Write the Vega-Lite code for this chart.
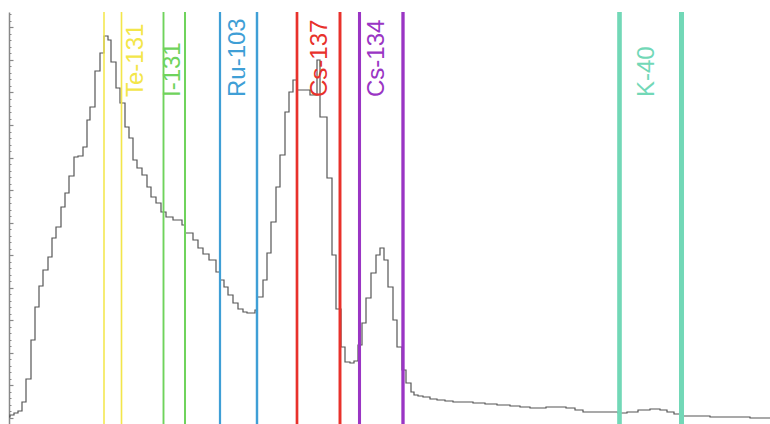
{
  "$schema": "https://vega.github.io/schema/vega-lite/v6.json",
  "width": 761,
  "height": 412,
  "autosize": {"type": "none"},
  "padding": {"left": 9, "top": 12, "right": 0, "bottom": 0},
  "background": "white",
  "config": {"view": {"stroke": null}, "axis": {"grid": false}},
  "datasets": {
    "spectrum": [
      {"x": 9, "c": 1}, {"x": 10, "c": 3}, {"x": 14, "c": 5}, {"x": 18, "c": 7}, {"x": 22, "c": 16},
      {"x": 26, "c": 39}, {"x": 31, "c": 78}, {"x": 35, "c": 111}, {"x": 39, "c": 132}, {"x": 43, "c": 148},
      {"x": 48, "c": 161}, {"x": 52, "c": 180}, {"x": 56, "c": 191}, {"x": 61, "c": 211}, {"x": 65, "c": 225},
      {"x": 69, "c": 242}, {"x": 74, "c": 261}, {"x": 78, "c": 262}, {"x": 83, "c": 271}, {"x": 87, "c": 298},
      {"x": 90, "c": 311}, {"x": 95, "c": 347}, {"x": 100, "c": 365}, {"x": 104, "c": 382}, {"x": 108, "c": 378},
      {"x": 111, "c": 356}, {"x": 116, "c": 330}, {"x": 120, "c": 315}, {"x": 125, "c": 291}, {"x": 129, "c": 280},
      {"x": 133, "c": 258}, {"x": 137, "c": 250}, {"x": 142, "c": 243}, {"x": 147, "c": 231}, {"x": 151, "c": 221},
      {"x": 156, "c": 215}, {"x": 161, "c": 206}, {"x": 166, "c": 201}, {"x": 173, "c": 198}, {"x": 182, "c": 193},
      {"x": 185, "c": 185}, {"x": 193, "c": 178}, {"x": 198, "c": 170}, {"x": 203, "c": 164}, {"x": 209, "c": 158},
      {"x": 216, "c": 146}, {"x": 220, "c": 138}, {"x": 224, "c": 131}, {"x": 228, "c": 123}, {"x": 233, "c": 115},
      {"x": 238, "c": 109}, {"x": 243, "c": 106}, {"x": 247, "c": 105}, {"x": 255, "c": 108}, {"x": 257, "c": 121},
      {"x": 263, "c": 138}, {"x": 267, "c": 165}, {"x": 271, "c": 196}, {"x": 276, "c": 231}, {"x": 280, "c": 263},
      {"x": 285, "c": 306}, {"x": 289, "c": 326}, {"x": 293, "c": 338}, {"x": 297, "c": 328}, {"x": 310, "c": 323},
      {"x": 317, "c": 358}, {"x": 320, "c": 301}, {"x": 327, "c": 240}, {"x": 332, "c": 163}, {"x": 336, "c": 109},
      {"x": 341, "c": 71}, {"x": 345, "c": 56}, {"x": 350, "c": 55}, {"x": 354, "c": 57}, {"x": 358, "c": 73},
      {"x": 362, "c": 95}, {"x": 366, "c": 120}, {"x": 371, "c": 145}, {"x": 376, "c": 163}, {"x": 380, "c": 170},
      {"x": 384, "c": 158}, {"x": 388, "c": 131}, {"x": 393, "c": 98}, {"x": 397, "c": 71}, {"x": 402, "c": 48},
      {"x": 406, "c": 35}, {"x": 411, "c": 26}, {"x": 414, "c": 23}, {"x": 418, "c": 22}, {"x": 423, "c": 21},
      {"x": 430, "c": 19}, {"x": 437, "c": 18}, {"x": 445, "c": 17}, {"x": 453, "c": 16}, {"x": 473, "c": 15},
      {"x": 485, "c": 14}, {"x": 497, "c": 13}, {"x": 510, "c": 12}, {"x": 520, "c": 11}, {"x": 530, "c": 10},
      {"x": 546, "c": 11}, {"x": 566, "c": 10}, {"x": 575, "c": 8}, {"x": 583, "c": 6}, {"x": 618, "c": 5},
      {"x": 627, "c": 6}, {"x": 638, "c": 8}, {"x": 650, "c": 9}, {"x": 660, "c": 8}, {"x": 667, "c": 6},
      {"x": 674, "c": 4}, {"x": 680, "c": 2}, {"x": 710, "c": 1}, {"x": 750, "c": 0}, {"x": 770, "c": 0}
    ],
    "lines": [
      {"iso": "Te-131", "e": 104}, {"iso": "Te-131", "e": 121.5},
      {"iso": "I-131", "e": 163.5}, {"iso": "I-131", "e": 185},
      {"iso": "Ru-103", "e": 220}, {"iso": "Ru-103", "e": 257},
      {"iso": "Cs-137", "e": 297}, {"iso": "Cs-137", "e": 340},
      {"iso": "Cs-134", "e": 359.5}, {"iso": "Cs-134", "e": 403},
      {"iso": "K-40", "e": 619.5}, {"iso": "K-40", "e": 681.5}
    ],
    "labels": [
      {"iso": "Te-131", "e": 136}, {"iso": "I-131", "e": 173}, {"iso": "Ru-103", "e": 238},
      {"iso": "Cs-137", "e": 320}, {"iso": "Cs-134", "e": 377}, {"iso": "K-40", "e": 647}
    ]
  },
  "resolve": {"axis": {"y": "independent"}},
  "layer": [
    {
      "data": {"name": "spectrum"},
      "mark": {"type": "line", "interpolate": "step-after", "color": "#555555", "strokeWidth": 1.2},
      "encoding": {
        "x": {"field": "x", "type": "quantitative", "scale": {"domain": [9, 770], "nice": false, "zero": false}, "axis": null},
        "y": {
          "field": "c", "type": "quantitative",
          "scale": {"domain": [-6, 406], "nice": false, "zero": false},
          "axis": {
            "orient": "left", "labels": false, "title": null, "domain": true, "domainColor": "#888888", "domainWidth": 1.5,
            "ticks": true, "tickColor": "#888888", "tickSize": -4, "tickWidth": 1.2,
            "values": [0, 32.55, 65.1, 97.65, 130.2, 162.75, 195.3, 227.85, 260.4, 292.95, 325.5, 358.05, 390.6]
          }
        }
      }
    },
    {
      "data": {"name": "lines"},
      "mark": {"type": "rule"},
      "encoding": {
        "x": {"field": "e", "type": "quantitative"},
        "color": {
          "field": "iso", "type": "nominal", "legend": null,
          "scale": {
            "domain": ["Te-131", "I-131", "Ru-103", "Cs-137", "Cs-134", "K-40"],
            "range": ["#f3e64a", "#6fd35c", "#3f9fd6", "#e8312b", "#9a35c4", "#72d8b7"]
          }
        },
        "strokeWidth": {"field": "e", "type": "quantitative", "legend": null, "scale": {"domain": [100, 680], "range": [1.5, 5]}}
      }
    },
    {
      "data": {"name": "labels"},
      "mark": {"type": "text", "angle": 270, "align": "left", "baseline": "middle", "fontSize": 24, "font": "Liberation Sans"},
      "encoding": {
        "x": {"field": "e", "type": "quantitative"},
        "y": {
          "datum": 321, "type": "quantitative",
          "axis": {
            "orient": "left", "labels": false, "title": null, "domain": false,
            "ticks": true, "tickColor": "#888888", "tickSize": -2, "tickWidth": 1,
            "values": [0, 6.51, 13.02, 19.53, 26.04, 32.55, 39.06, 45.57, 52.08, 58.59, 65.1, 71.61, 78.12, 84.63, 91.14, 97.65, 104.16, 110.67, 117.18, 123.69, 130.2, 136.71, 143.22, 149.73, 156.24, 162.75, 169.26, 175.77, 182.28, 188.79, 195.3, 201.81, 208.32, 214.83, 221.34, 227.85, 234.36, 240.87, 247.38, 253.89, 260.4, 266.91, 273.42, 279.93, 286.44, 292.95, 299.46, 305.97, 312.48, 318.99, 325.5, 332.01, 338.52, 345.03, 351.54, 358.05, 364.56, 371.07, 377.58, 384.09, 390.6, 397.11, 403.62]
          }
        },
        "text": {"field": "iso", "type": "nominal"},
        "color": {"field": "iso", "type": "nominal", "legend": null}
      }
    }
  ]
}
